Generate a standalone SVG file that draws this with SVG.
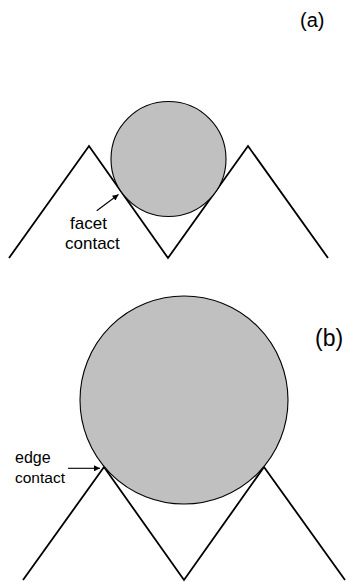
<svg xmlns="http://www.w3.org/2000/svg" width="347" height="584" viewBox="0 0 347 584">
<style>
.zig{fill:none;stroke:#000;stroke-width:1.8;stroke-linejoin:miter}
.ball{fill:#c0c0c0;stroke:#000;stroke-width:1.1}
.lbl{font-family:"Liberation Sans",Arial,sans-serif;fill:#000}
.arr{stroke:#000;stroke-width:1.1;fill:none}
</style>
<defs>
<marker id="ah" viewBox="0 0 10 10" refX="10" refY="5" markerWidth="7" markerHeight="6" markerUnits="userSpaceOnUse" orient="auto">
<path d="M0,0 L10,5 L0,10 z" fill="#000"/>
</marker>
</defs>
<rect width="347" height="584" fill="#fff"/>
<g id="panel-a">
<polyline class="zig" points="9,258 89,146 168,258 248,146 328,258"/>
<circle class="ball" cx="168.5" cy="159" r="57.5"/>
<text class="lbl" x="300" y="27" font-size="20">(a)</text>
</g>
<g id="facet-label">
<text class="lbl" x="70" y="229" font-size="17">facet</text>
<text class="lbl" x="65" y="249" font-size="17">contact</text>
</g>
<g id="panel-b">
<polyline class="zig" points="23,580 104,467 184,580 264,467 345,580"/>
<circle class="ball" cx="184" cy="400" r="104"/>
<text class="lbl" x="315" y="346" font-size="23">(b)</text>
</g>
<g id="edge-label">
<text class="lbl" x="15" y="463" font-size="16">edge</text>
<text class="lbl" x="15" y="483" font-size="15.5">contact</text>
</g>
<g id="connectors">
<line class="arr" x1="96.7" y1="210.7" x2="118.5" y2="194.5" marker-end="url(#ah)"/>
<line class="arr" x1="68" y1="468.3" x2="100" y2="468.3" marker-end="url(#ah)"/>
</g>
</svg>
